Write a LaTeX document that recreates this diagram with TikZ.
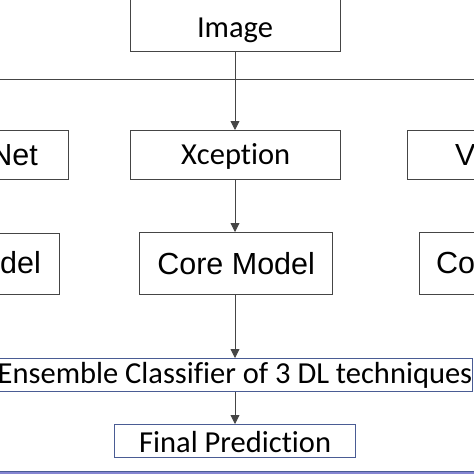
\documentclass[tikz,border=0pt]{standalone}
\usepackage{fontspec}
\setmainfont{Carlito}[Ligatures=CommonOff]
\newfontfamily\arialf{Liberation Sans}
\usetikzlibrary{arrows.meta}
\definecolor{edgegray}{HTML}{454545}
\definecolor{edgeblue}{HTML}{4A5C94}
\definecolor{bandblue}{HTML}{8585D2}
\tikzset{
  x=1pt, y=-1pt,
  gbox/.style={draw=edgegray, line width=1.3pt, fill=white, inner sep=0pt},
  bbox/.style={draw=edgeblue, line width=1.3pt, fill=white, inner sep=0pt},
  cal/.style={font=\fontsize{30.5}{36}\selectfont},
  ari/.style={font=\arialf\fontsize{30.5}{36}\selectfont},
  conn/.style={draw=edgegray, line width=0.9pt},
  arr/.style={conn, -{Triangle[width=9pt,length=9pt]}}
}
\begin{document}
\begin{tikzpicture}
\useasboundingbox (0,0) rectangle (474,474);
\clip (0,0) rectangle (474,474);
\fill[white] (0,0) rectangle (474,474);
% boxes
\node[gbox, minimum width=210pt, minimum height=53pt, anchor=north west] (img) at (130,-2) {};
\node[cal] (imgt) at (235,30) {Image};
\node[gbox, minimum width=210pt, minimum height=49pt, anchor=north west] (xc) at (130,130) {};
\node[cal] at ([yshift=-1pt]xc.center) {Xception};
\node[gbox, minimum width=150pt, minimum height=49pt, anchor=north east] (lnet) at (69,130) {};
\node[ari, anchor=east, inner xsep=0pt] at (38,155) {Net};
\node[gbox, minimum width=150pt, minimum height=49pt, anchor=north west] (rv) at (407,130) {};
\node[ari, anchor=west, inner xsep=0pt] at (455,155) {V};
\node[gbox, minimum width=193pt, minimum height=62pt, anchor=north west] (cm) at (139,232) {};
\node[ari] at (cm.center) {Core Model};
\node[gbox, minimum width=150pt, minimum height=61pt, anchor=north east] (lcm) at (60,233) {};
\node[ari, anchor=east, inner xsep=0pt] at (41,263) {del};
\node[gbox, minimum width=150pt, minimum height=62pt, anchor=north west] (rcm) at (419,232) {};
\node[ari, anchor=west, inner xsep=0pt] at (436,263) {Co};
\node[bbox, minimum width=485pt, minimum height=33pt, anchor=north east] (ens) at (473,358) {};
\node[cal] at (235,375) {Ensemble Classifier of 3 DL techniques};
\node[bbox, minimum width=241pt, minimum height=33pt, anchor=north west] (fp) at (114,424) {};
\node[cal] at ([yshift=-1pt]fp.center) {Final Prediction};
\fill[bandblue] (0,471) rectangle (474,476);
\draw[edgeblue, line width=0.6pt] (0,471) -- (474,471);
% connectors
\coordinate (hl) at (0,79);
\coordinate (hr) at (474,79);
\draw[conn] (hl) -- (hr);
\draw[arr] (img.south -| 235,0) -- (xc.north -| 235,0);
\draw[arr] (xc.south -| 235,0) -- (cm.north -| 235,0);
\draw[arr] (cm.south -| 235,0) -- (ens.north -| 235,0);
\draw[arr] (ens.south -| 235,0) -- (fp.north -| 235,0);
\end{tikzpicture}
\end{document}
